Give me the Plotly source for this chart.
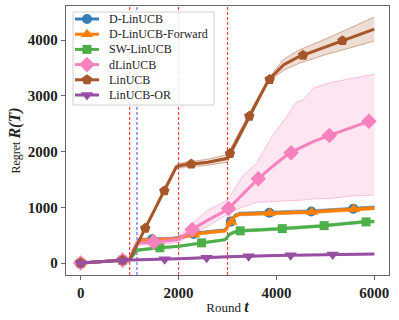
import numpy as np
import plotly.graph_objects as go

# ---------------- data ----------------
names = ["D-LinUCB", "D-LinUCB-Forward", "SW-LinUCB", "dLinUCB", "LinUCB", "LinUCB-OR"]

t_dlin = [0, 1000, 1100, 1200, 1900, 2000, 2400, 2950, 3050, 3150, 3250, 3900, 4700, 5600, 6000]
r_dlin = [0, 60, 260, 420, 440, 460, 540, 590, 720, 850, 885, 905, 925, 975, 995]
w_dlin = [0, 5, 15, 25, 25, 25, 25, 25, 30, 30, 30, 30, 30, 30, 30]

t_fwd = [0, 1000, 1100, 1200, 1900, 2000, 2400, 2950, 3050, 3150, 3250, 3900, 4700, 5600, 6000]
r_fwd = [0, 60, 250, 410, 430, 450, 530, 580, 700, 840, 875, 897, 915, 965, 985]
w_fwd = [0, 5, 15, 25, 25, 25, 25, 25, 30, 30, 30, 30, 30, 30, 30]

t_sw = [0, 1000, 1150, 1500, 2000, 2450, 2950, 3050, 3200, 4000, 4900, 5750, 6000]
r_sw = [0, 60, 230, 265, 300, 360, 420, 520, 575, 610, 665, 735, 745]
w_sw = [0, 5, 20, 20, 20, 20, 20, 25, 25, 25, 25, 25, 25]

t_d = [0, 1000, 1080, 1150, 1550, 2000, 2290, 2600, 3000, 3300, 3600, 3900, 4200, 4400, 4550, 4750, 5100, 5500, 6000]
r_d = [0, 60, 250, 360, 377, 420, 610, 770, 960, 1230, 1490, 1720, 1930, 2030, 2100, 2180, 2295, 2420, 2580]
lo_d = [0, 55, 220, 320, 330, 370, 520, 660, 880, 1000, 1090, 1100, 1110, 1120, 1130, 1150, 1160, 1200, 1220]
hi_d = [0, 65, 290, 420, 440, 470, 720, 950, 1130, 1550, 1800, 2260, 2620, 2880, 2930, 3140, 3240, 3310, 3390]

t_lin = [0, 1000, 1300, 1700, 1950, 2050, 2300, 2600, 3000, 3100, 3400, 3800, 3900, 4000, 4150, 4450, 5000, 5500, 6000]
r_lin = [0, 60, 590, 1280, 1720, 1755, 1780, 1810, 1880, 2050, 2560, 3220, 3340, 3430, 3560, 3700, 3880, 4040, 4200]
w_lin = [0, 5, 20, 30, 40, 40, 45, 55, 70, 70, 60, 30, 40, 70, 100, 120, 140, 180, 215]

t_or = [0, 1000, 2000, 3000, 4000, 5000, 6000]
r_or = [0, 55, 75, 112, 135, 150, 160]
w_or = [0, 5, 8, 10, 10, 10, 10]

change_points = [1000, 2000, 3000]
detections = [1150]

x_ticks = [0, 2000, 4000, 6000]
y_ticks = [0, 1000, 2000, 3000, 4000]

# ---------------- style ----------------
colors = ["#377eb8", "#ff7f00", "#4daf4a", "#f781bf", "#a65628", "#984ea3"]
symbols = ["circle", "triangle-up", "square", "diamond", "pentagon", "triangle-down"]
msizes = [10, 11, 9, 12, 11, 11]
SERIF = "Liberation Serif"

W, H = 323, 269            # plot area in px
X0, X1 = -300, 6300
Y0, Y1 = -215, 4614
DELTA = 0.1 * np.hypot(W, H)   # matplotlib-like markevery=0.1


def rgba(hexc, a):
    h = hexc.lstrip("#")
    return "rgba(%d,%d,%d,%.3f)" % (int(h[0:2], 16), int(h[2:4], 16), int(h[4:6], 16), a)


def marker_pos(t, r):
    t = np.asarray(t, float)
    r = np.asarray(r, float)
    px = (t - X0) / (X1 - X0) * W
    py = (r - Y0) / (Y1 - Y0) * H
    cum = np.concatenate([[0], np.cumsum(np.hypot(np.diff(px), np.diff(py)))])
    targets = np.arange(0, cum[-1], DELTA)
    return np.interp(targets, cum, t), np.interp(targets, cum, r)


series = [
    (t_dlin, r_dlin, [a - b for a, b in zip(r_dlin, w_dlin)], [a + b for a, b in zip(r_dlin, w_dlin)]),
    (t_fwd, r_fwd, [a - b for a, b in zip(r_fwd, w_fwd)], [a + b for a, b in zip(r_fwd, w_fwd)]),
    (t_sw, r_sw, [a - b for a, b in zip(r_sw, w_sw)], [a + b for a, b in zip(r_sw, w_sw)]),
    (t_d, r_d, lo_d, hi_d),
    (t_lin, r_lin, [a - b for a, b in zip(r_lin, w_lin)], [a + b for a, b in zip(r_lin, w_lin)]),
    (t_or, r_or, [a - b for a, b in zip(r_or, w_or)], [a + b for a, b in zip(r_or, w_or)]),
]

fig = go.Figure()

for i, (t, r, lo, hi) in enumerate(series):
    c = colors[i]
    fig.add_trace(go.Scatter(x=t, y=lo, mode="lines", line=dict(color=rgba(c, 0.45), width=1),
                             showlegend=False, hoverinfo="skip"))
    fig.add_trace(go.Scatter(x=t, y=hi, mode="lines", line=dict(color=rgba(c, 0.45), width=1),
                             fill="tonexty", fillcolor=rgba(c, 0.2), showlegend=False, hoverinfo="skip"))
    fig.add_trace(go.Scatter(x=t, y=r, mode="lines", line=dict(color=c, width=3),
                             name=names[i], showlegend=False))
    mx, my = marker_pos(t, r)
    fig.add_trace(go.Scatter(x=mx, y=my, mode="markers", name=names[i],
                             marker=dict(symbol=symbols[i], size=msizes[i], color=c, line=dict(width=0)),
                             showlegend=False))

# ---------------- legend (drawn in a pixel-unit overlay axis) ----------------
LEG_BOX = (7, 148, 6, 99)          # left, right, top, bottom (px inside plot area)
LEG_ROW0, LEG_ROW_STEP = 13, 15.2
LEG_LINE = (9, 33)
LEG_TEXT_X = 41

bx0, bx1, by0, by1 = LEG_BOX
fig.add_trace(go.Scatter(x=[bx0, bx1, bx1, bx0, bx0], y=[by0, by0, by1, by1, by0],
                         xaxis="x2", yaxis="y2", mode="lines", fill="toself",
                         fillcolor="rgba(255,255,255,0.85)", line=dict(color="#d0d0d0", width=1),
                         showlegend=False, hoverinfo="skip"))
annotations = []
for i, nm in enumerate(names):
    yy = LEG_ROW0 + i * LEG_ROW_STEP
    fig.add_trace(go.Scatter(x=list(LEG_LINE), y=[yy, yy], xaxis="x2", yaxis="y2", mode="lines",
                             line=dict(color=colors[i], width=3), showlegend=False, hoverinfo="skip"))
    fig.add_trace(go.Scatter(x=[sum(LEG_LINE) / 2], y=[yy], xaxis="x2", yaxis="y2", mode="markers",
                             marker=dict(symbol=symbols[i], size=msizes[i], color=colors[i], line=dict(width=0)),
                             showlegend=False, hoverinfo="skip"))
    annotations.append(dict(x=LEG_TEXT_X, y=yy, xref="x2", yref="y2", text=nm, showarrow=False,
                            xanchor="left", yanchor="middle",
                            font=dict(family=SERIF, size=12, color="#222222")))

shapes = []
for cp in change_points:
    shapes.append(dict(type="line", xref="x", yref="paper", x0=cp, x1=cp, y0=0, y1=1,
                       line=dict(color="rgba(255,0,0,0.75)", width=1.2, dash="3px,2px"), layer="below"))
for d in detections:
    shapes.append(dict(type="line", xref="x", yref="paper", x0=d, x1=d, y0=0, y1=1,
                       line=dict(color="rgba(0,0,255,0.6)", width=1.2, dash="3px,2px"), layer="below"))

axis_common = dict(showline=True, mirror=True, linecolor="#666666", linewidth=1.3,
                   ticks="outside", ticklen=4, tickwidth=1.2, tickcolor="#666666",
                   showgrid=False, zeroline=False,
                   tickfont=dict(family=SERIF, size=15, color="#222222", weight="bold"))

fig.update_layout(
    width=399, height=320,
    margin=dict(l=66, r=10, t=6, b=45),
    paper_bgcolor="white", plot_bgcolor="white",
    shapes=shapes,
    annotations=annotations,
    showlegend=False,
    xaxis=dict(range=[X0, X1], tickvals=x_ticks, ticktext=[str(v) for v in x_ticks],
               title=dict(text="Round <b><i><span style='font-size:16px'>t</span></i></b>",
                          font=dict(family=SERIF, size=13, color="#222222"), standoff=2),
               **axis_common),
    yaxis=dict(range=[Y0, Y1], tickvals=y_ticks, ticktext=[str(v) for v in y_ticks],
               title=dict(text="Regret <b><i><span style='font-size:16px'>R(T)</span></i></b>",
                          font=dict(family=SERIF, size=12, color="#222222"), standoff=4),
               **axis_common),
    xaxis2=dict(overlaying="x", anchor="y2", range=[0, W], visible=False, fixedrange=True),
    yaxis2=dict(overlaying="y", anchor="x2", range=[H, 0], visible=False, fixedrange=True),
)

fig.write_html("out.html", config={"displayModeBar": False},
               post_script="document.body.style.margin='0';document.body.style.padding='0';")
